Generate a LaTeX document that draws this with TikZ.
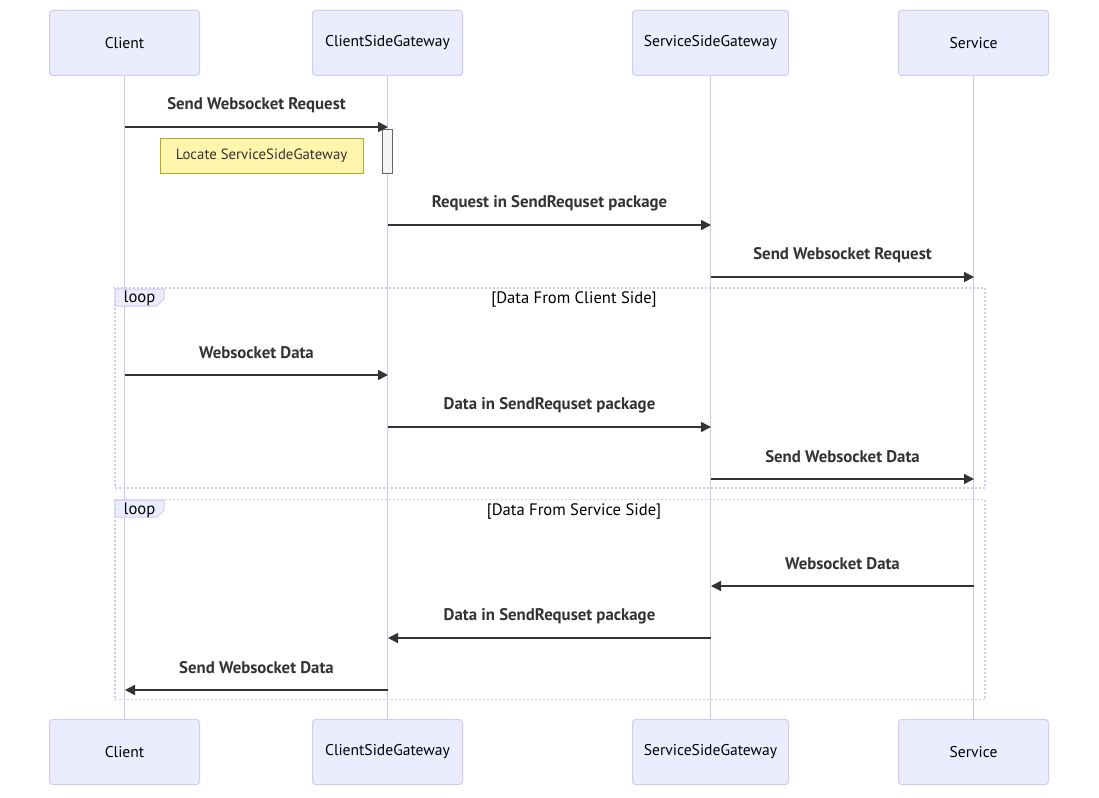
\documentclass[tikz,border=0pt]{standalone}
\usepackage{fontspec}
\setmainfont{PT Sans}
\usetikzlibrary{arrows.meta}
\definecolor{actfill}{HTML}{ECECFF}
\definecolor{actline}{HTML}{D3C9F3}
\definecolor{lifecol}{HTML}{CFC4F2}
\definecolor{notefill}{HTML}{FFF5AD}
\definecolor{noteline}{HTML}{AAAA33}
\definecolor{txt}{HTML}{333333}
\tikzset{
  actor/.style={draw=actline, fill=actfill, line width=1pt, rounded corners=3pt,
    minimum width=150pt, minimum height=65pt, inner sep=0pt, font=\fontsize{15.6}{18}\selectfont, text=black},
  lifeline/.style={draw=lifecol, line width=1.8pt},
  msg/.style={draw=txt, line width=1.5pt, -{Triangle[length=10pt,width=10pt]}},
  msglabel/.style={midway, yshift=22pt, font=\fontsize{16.8}{19}\selectfont\bfseries, text=txt},
  notebox/.style={draw=noteline, fill=notefill, line width=1pt, minimum width=203pt, minimum height=35pt,
    inner sep=0pt, font=\fontsize{14.8}{17}\selectfont, text=txt},
  actbox/.style={draw=black!60, fill=black!4, line width=1pt, minimum width=10pt, minimum height=44pt, inner sep=0pt},
  loopframe/.style={draw=actline, line width=1.5pt, dash pattern=on 2pt off 2pt, minimum width=870pt, minimum height=200pt, inner sep=0pt},
  looptab/.style={draw=actline, fill=actfill, line width=1pt},
  looptext/.style={font=\fontsize{16.6}{19}\selectfont, text=black, inner sep=0pt},
}
\begin{document}
\begin{tikzpicture}[x=1pt,y=-1pt]
\useasboundingbox (0,0) rectangle (1099,797);
% actors
\node[actor] (cT) at (124.5,43) {Client};
\node[actor] (gT) at (387.5,43) {ClientSideGateway};
\node[actor, minimum width=156pt] (sgT) at (710.5,43) {ServiceSideGateway};
\node[actor] (sT) at (973.5,43) {Service};
\node[actor] (cB) at (124.5,752) {Client};
\node[actor] (gB) at (387.5,752) {ClientSideGateway};
\node[actor, minimum width=156pt] (sgB) at (710.5,752) {ServiceSideGateway};
\node[actor] (sB) at (973.5,752) {Service};
% lifelines
\draw[lifeline] (cT) -- (cB);
\draw[lifeline] (gT) -- (gB);
\draw[lifeline] (sgT) -- (sgB);
\draw[lifeline] (sT) -- (sB);
% loops
\node[loopframe] (loopA) at (550,388) {};
\node[loopframe] (loopB) at (550,599.5) {};
\draw[looptab] (115,289) -- (164,289) -- (164,299) -- (157,306) -- (115,306) -- cycle;
\draw[looptab] (115,500) -- (164,500) -- (164,510) -- (157,517) -- (115,517) -- cycle;
\node[looptext] (loopAl) at (139.5,298) {loop};
\node[looptext] (loopAc) at (574,299) {[Data From Client Side]};
\node[looptext] (loopBl) at (139.5,510) {loop};
\node[looptext] (loopBc) at (574,511) {[Data From Service Side]};
% activation and note
\node[actbox] (act) at (387.5,151) {};
\node[notebox] (note) at (261.5,155.5) {Locate ServiceSideGateway};
% message endpoints
\coordinate (m1s) at (125,127); \coordinate (m1e) at (388,127);
\coordinate (m2s) at (388,225); \coordinate (m2e) at (711,225);
\coordinate (m3s) at (711,277); \coordinate (m3e) at (974,277);
\coordinate (m4s) at (125,375); \coordinate (m4e) at (388,375);
\coordinate (m5s) at (388,427); \coordinate (m5e) at (711,427);
\coordinate (m6s) at (711,479); \coordinate (m6e) at (974,479);
\coordinate (m7s) at (974,586); \coordinate (m7e) at (711,586);
\coordinate (m8s) at (711,638); \coordinate (m8e) at (388,638);
\coordinate (m9s) at (388,690); \coordinate (m9e) at (125,690);
% messages
\draw[msg] (m1s) -- node[msglabel] {Send Websocket Request} (m1e);
\draw[msg] (m2s) -- node[msglabel] {Request in SendRequset package} (m2e);
\draw[msg] (m3s) -- node[msglabel] {Send Websocket Request} (m3e);
\draw[msg] (m4s) -- node[msglabel] {Websocket Data} (m4e);
\draw[msg] (m5s) -- node[msglabel] {Data in SendRequset package} (m5e);
\draw[msg] (m6s) -- node[msglabel] {Send Websocket Data} (m6e);
\draw[msg] (m7s) -- node[msglabel] {Websocket Data} (m7e);
\draw[msg] (m8s) -- node[msglabel] {Data in SendRequset package} (m8e);
\draw[msg] (m9s) -- node[msglabel] {Send Websocket Data} (m9e);
\end{tikzpicture}
\end{document}
